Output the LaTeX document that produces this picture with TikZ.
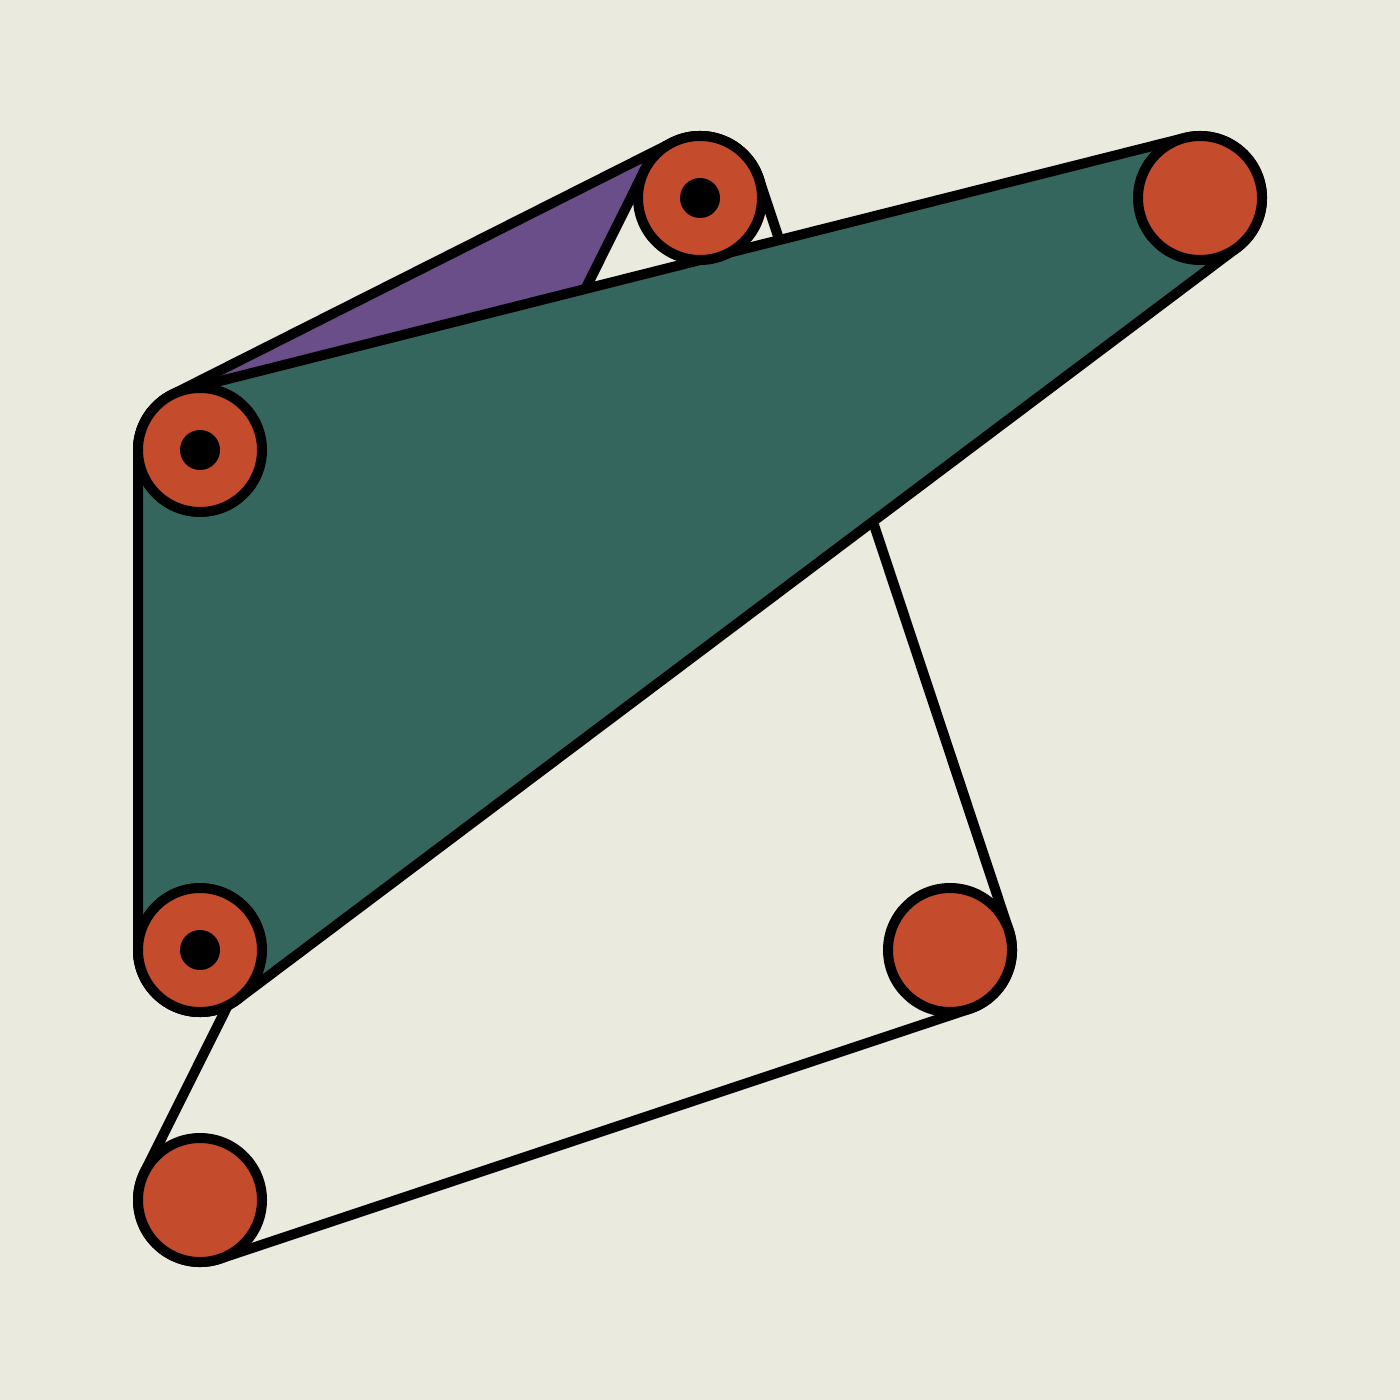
\documentclass[tikz,border=0pt]{standalone}
\usetikzlibrary{calc}
\definecolor{bgc}{RGB}{234,234,222}
\definecolor{tealc}{RGB}{53,102,94}
\definecolor{purc}{RGB}{105,78,138}
\definecolor{orc}{RGB}{196,76,45}
\tikzset{
  hull/.style={draw=black, line width=5pt, line join=round},
  joint/.style={circle, draw=black, fill=orc, line width=5pt, minimum size=62pt, inner sep=0pt},
  pin/.style={circle, fill=black, minimum size=20pt, inner sep=0pt}
}
\begin{document}
\begin{tikzpicture}[x=0.5pt,y=-0.5pt]
\fill[bgc] (0,0) rectangle (1400,1400);
\useasboundingbox (0,0) rectangle (1400,1400);
% centres
\coordinate (A) at (700,198);
\coordinate (B) at (1200,198);
\coordinate (C) at (200,450);
\coordinate (D) at (200,950);
\coordinate (E) at (950,950);
\coordinate (F) at (200,1200);
% purple hull C-A-D
\draw[hull, fill=purc] ($(C)+(-116.75:62)$) -- ($(A)+(-116.75:62)$)
  arc[start angle=-116.75, end angle=33.62, radius=62] -- ($(D)+(33.62:62)$)
  arc[start angle=33.62, end angle=180, radius=62] -- ($(C)+(180:62)$)
  arc[start angle=180, end angle=243.25, radius=62] -- cycle;
% beige hull A-E-F
\draw[hull, fill=bgc] ($(A)+(-18.4:62)$) -- ($(E)+(-18.4:62)$)
  arc[start angle=-18.4, end angle=71.57, radius=62] -- ($(F)+(71.57:62)$)
  arc[start angle=71.57, end angle=206.52, radius=62] -- ($(A)+(206.52:62)$)
  arc[start angle=206.52, end angle=341.6, radius=62] -- cycle;
% green hull C-B-D
\draw[hull, fill=tealc] ($(C)+(-104.1:62)$) -- ($(B)+(-104.1:62)$)
  arc[start angle=-104.1, end angle=53.06, radius=62] -- ($(D)+(53.06:62)$)
  arc[start angle=53.06, end angle=180, radius=62] -- ($(C)+(180:62)$)
  arc[start angle=180, end angle=255.9, radius=62] -- cycle;
% joints
\node[joint] (nA) at (A) {};
\node[joint] (nB) at (B) {};
\node[joint] (nC) at (C) {};
\node[joint] (nD) at (D) {};
\node[joint] (nE) at (E) {};
\node[joint] (nF) at (F) {};
\node[pin] (pA) at (A) {};
\node[pin] (pC) at (C) {};
\node[pin] (pD) at (D) {};
\end{tikzpicture}
\end{document}
